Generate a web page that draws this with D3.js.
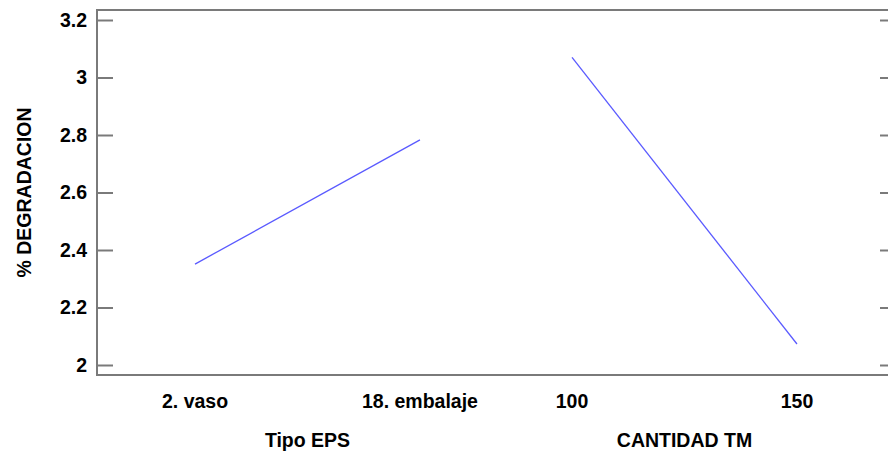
<!DOCTYPE html>
<html>
<head>
<meta charset="utf-8">
<script src="https://cdn.jsdelivr.net/npm/d3@7"></script>
<style>
  html, body { margin: 0; padding: 0; background: #fff; }
  svg { display: block; }
  text { font-family: "Liberation Sans", Arial, sans-serif; font-weight: bold; fill: #000; }
</style>
</head>
<body>
<svg id="chart" width="888" height="452"></svg>
<script>
// ---- data ----
const factors = ["Tipo EPS", "CANTIDAD TM"];
const levelsTipo = ["2. vaso", "18. embalaje"];
const valuesTipo = [2.351, 2.783];
const levelsCantidad = ["100", "150"];
const valuesCantidad = [3.070, 2.073];
const yTicks = [2, 2.2, 2.4, 2.6, 2.8, 3, 3.2];
const yLabel = "% DEGRADACION";

const series = [
  { factor: factors[0], levels: levelsTipo, values: valuesTipo },
  { factor: factors[1], levels: levelsCantidad, values: valuesCantidad }
];

// ---- layout ----
const frame = { left: 97, top: 10, right: 896, bottom: 375 };
const fontSize = 19.5;
const svg = d3.select("#chart");

const y = d3.scaleLinear().domain([2, 3.2]).range([365, 20]);
const xGroup = d3.scaleBand().domain(factors).range([119, 873]).paddingInner(0);

// frame
svg.append("rect")
  .attr("x", frame.left).attr("y", frame.top)
  .attr("width", frame.right - frame.left).attr("height", frame.bottom - frame.top)
  .attr("fill", "none").attr("stroke", "#7a7a7a").attr("stroke-width", 2);

// left axis (inward ticks)
const yAxisL = svg.append("g")
  .attr("transform", `translate(${frame.left},0)`)
  .call(d3.axisLeft(y).tickValues(yTicks).tickFormat(d3.format("~g"))
        .tickSizeInner(-16).tickSizeOuter(0).tickPadding(10));
yAxisL.select(".domain").remove();
yAxisL.selectAll(".tick line").attr("stroke", "#7a7a7a").attr("stroke-width", 2);
yAxisL.selectAll(".tick text").attr("font-size", fontSize)
  .attr("font-family", "Liberation Sans, Arial, sans-serif").attr("font-weight", "bold");

// right axis (inward ticks, no labels)
const yAxisR = svg.append("g")
  .attr("transform", `translate(${frame.right},0)`)
  .call(d3.axisRight(y).tickValues(yTicks).tickFormat("")
        .tickSizeInner(-16).tickSizeOuter(0));
yAxisR.select(".domain").remove();
yAxisR.selectAll(".tick line").attr("stroke", "#7a7a7a").attr("stroke-width", 2);

// y label
svg.append("text")
  .attr("transform", `translate(31,${(frame.top + frame.bottom) / 2}) rotate(-90)`)
  .attr("text-anchor", "middle")
  .attr("font-size", fontSize)
  .text(yLabel);

// groups
series.forEach(s => {
  const x = d3.scalePoint().domain(s.levels)
    .range([xGroup(s.factor), xGroup(s.factor) + xGroup.bandwidth()])
    .padding(0.338);
  const pts = s.levels.map((l, i) => [x(l), y(s.values[i])]);
  svg.append("path")
    .attr("d", d3.line()(pts))
    .attr("fill", "none")
    .attr("stroke", "#5a5aff")
    .attr("stroke-width", 1.3);
  s.levels.forEach(l => {
    svg.append("text")
      .attr("x", x(l)).attr("y", 407.5)
      .attr("text-anchor", "middle")
      .attr("font-size", fontSize)
      .text(l);
  });
  svg.append("text")
    .attr("x", xGroup(s.factor) + xGroup.bandwidth() / 2).attr("y", 446.5)
    .attr("text-anchor", "middle")
    .attr("font-size", fontSize)
    .text(s.factor);
});
</script>
</body>
</html>
